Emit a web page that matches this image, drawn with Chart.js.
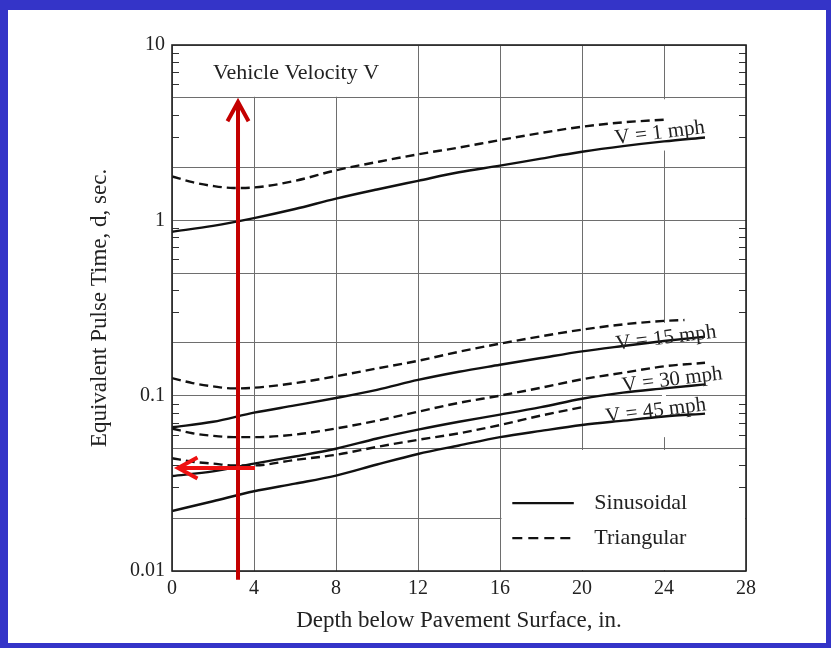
<!DOCTYPE html>
<html><head><meta charset="utf-8">
<script src="https://cdn.jsdelivr.net/npm/chart.js@4.4.1/dist/chart.umd.min.js"></script>
<style>
html,body{margin:0;padding:0;background:#3434c8;overflow:hidden;}
canvas{display:block;}
</style></head><body>
<canvas id="c" width="831" height="648"></canvas>
<script>
// ---- axis ticks ----
const depthTicks = [0, 4, 8, 12, 16, 20, 24, 28];
const yGridValues = [0.01, 0.02, 0.05, 0.1, 0.2, 0.5, 1, 2, 5, 10];
const yMinorValues = [0.03,0.04,0.06,0.07,0.08,0.09,0.3,0.4,0.6,0.7,0.8,0.9,3,4,6,7,8,9];
const yLabelValues = [0.01, 0.1, 1, 10];
const yLabelTexts = ['0.01', '0.1', '1', '10'];

// ---- series (depth in inches, pulse time in sec) ----
const depthSin = [0, 2, 4, 6, 8, 10, 12, 14, 16, 18, 20, 22, 24, 26];
const sinV1  = [0.86, 0.93, 1.03, 1.16, 1.33, 1.5, 1.68, 1.88, 2.05, 2.25, 2.46, 2.65, 2.82, 2.97];
const sinV15 = [0.066, 0.071, 0.08, 0.088, 0.097, 0.108, 0.123, 0.137, 0.15, 0.164, 0.179, 0.192, 0.205, 0.217];
const sinV30 = [0.0348, 0.037, 0.041, 0.045, 0.0498, 0.057, 0.064, 0.071, 0.078, 0.086, 0.096, 0.104, 0.110, 0.116];
const sinV45 = [0.022, 0.025, 0.0285, 0.0315, 0.035, 0.0405, 0.0465, 0.052, 0.058, 0.063, 0.068, 0.072, 0.076, 0.079];

const depthTriV1  = [0, 1, 2, 3, 4, 6, 8, 10, 12, 14, 16, 18, 20, 22, 24];
const triV1  = [1.78, 1.65, 1.57, 1.53, 1.54, 1.68, 1.93, 2.15, 2.38, 2.6, 2.87, 3.15, 3.42, 3.62, 3.75];
const depthTriV15 = [0, 1, 2, 3, 4, 6, 8, 10, 12, 14, 16, 18, 20, 22, 24, 25];
const triV15 = [0.126, 0.118, 0.113, 0.11, 0.111, 0.118, 0.129, 0.143, 0.158, 0.178, 0.198, 0.218, 0.238, 0.255, 0.267, 0.27];
const depthTriV30 = [0, 1, 2, 3, 4, 6, 8, 10, 12, 14, 16, 18, 20, 22, 24, 26];
const triV30 = [0.065, 0.061, 0.059, 0.058, 0.058, 0.06, 0.065, 0.072, 0.081, 0.091, 0.1, 0.111, 0.124, 0.135, 0.147, 0.154];
const depthTriV45 = [0, 1, 2, 3, 4, 6, 8, 10, 12, 14, 16, 18, 20];
const triV45 = [0.044, 0.042, 0.041, 0.040, 0.040, 0.043, 0.046, 0.051, 0.056, 0.061, 0.068, 0.077, 0.086];

const curveLabels = ['V = 1 mph', 'V = 15 mph', 'V = 30 mph', 'V = 45 mph'];
const legendLabels = ['Sinusoidal', 'Triangular'];

// annotation anchors in data units (depth, value)
const curveLabelAt = [[23.8, 3.15], [24.1, 0.213], [24.4, 0.123], [23.6, 0.0818]];
const titleNote = 'Vehicle Velocity V';
const titleNoteAt = [6.05, 6.9];

const pts = (xs, ys) => xs.map((x, i) => ({x: x, y: ys[i]}));
const SERIF = '"Liberation Serif", "Times New Roman", serif';

function ds(label, xs, ys, dashed) {
  return {
    label, data: pts(xs, ys),
    borderColor: '#111', borderWidth: 2.4, borderDash: dashed ? [9, 5] : [],
    pointRadius: 0, fill: false, tension: 0.4, cubicInterpolationMode: 'monotone'
  };
}

const decor = {
  id: 'decor',
  beforeDraw(chart) {
    const c = chart.ctx;
    c.save();
    c.fillStyle = '#3434c8'; c.fillRect(0, 0, chart.width, chart.height);
    c.fillStyle = '#ffffff'; c.fillRect(8, 10, 818, 633);
    c.restore();
  },
  beforeDatasetsDraw(chart) {
    const {ctx, chartArea: a, scales: {x, y}} = chart;
    ctx.save();
    ctx.fillStyle = '#fff';
    // open area behind the "Vehicle Velocity V" note
    ctx.fillRect(a.left + 1, a.top + 1, x.getPixelForValue(11.5) - a.left - 1, y.getPixelForValue(5) - a.top - 2);
    // legend area
    ctx.fillRect(x.getPixelForValue(16) + 1.5, y.getPixelForValue(0.05) + 1.5,
                 a.right - x.getPixelForValue(16) - 2.5, a.bottom - y.getPixelForValue(0.05) - 2.5);
    // gaps of the 24 in. line under labels
    const x24 = x.getPixelForValue(24);
    ctx.fillRect(x24 - 2, y.getPixelForValue(5) + 1.5, 4, y.getPixelForValue(2.55) - y.getPixelForValue(5));
    ctx.fillRect(x24 - 2, y.getPixelForValue(0.26), 4, y.getPixelForValue(0.058) - y.getPixelForValue(0.26));
    // minor ticks, inside, left and right
    ctx.strokeStyle = '#333'; ctx.lineWidth = 1.2;
    ctx.beginPath();
    yMinorValues.forEach(v => {
      const py = Math.round(y.getPixelForValue(v)) + 0.5;
      ctx.moveTo(a.left, py); ctx.lineTo(a.left + 7, py);
      ctx.moveTo(a.right, py); ctx.lineTo(a.right - 7, py);
    });
    ctx.stroke();
    ctx.restore();
  },
  afterDatasetsDraw(chart) {
    const {ctx, chartArea: a, scales: {x, y}} = chart;
    ctx.save();
    // plot frame
    ctx.strokeStyle = '#222'; ctx.lineWidth = 1.6;
    ctx.strokeRect(a.left, a.top, a.right - a.left, a.bottom - a.top);

    // text notes
    ctx.fillStyle = '#222';
    ctx.textAlign = 'center'; ctx.textBaseline = 'middle';
    ctx.font = '22px ' + SERIF;
    ctx.fillText(titleNote, x.getPixelForValue(titleNoteAt[0]), y.getPixelForValue(titleNoteAt[1]));
    ctx.font = '21px ' + SERIF;
    curveLabels.forEach((t, i) => {
      const px = x.getPixelForValue(curveLabelAt[i][0]), py = y.getPixelForValue(curveLabelAt[i][1]);
      ctx.save(); ctx.translate(px, py); ctx.rotate(-7 * Math.PI / 180);
      ctx.fillText(t, 0, 0); ctx.restore();
    });

    // legend
    const lx0 = x.getPixelForValue(16.6), lx1 = x.getPixelForValue(19.6), tx = x.getPixelForValue(20.6);
    const rows = [y.getPixelForValue(0.0244), y.getPixelForValue(0.0154)];
    ctx.strokeStyle = '#111'; ctx.lineWidth = 2.4;
    rows.forEach((ry, i) => {
      ctx.setLineDash(i === 0 ? [] : [10, 6]);
      ctx.beginPath(); ctx.moveTo(lx0, ry); ctx.lineTo(lx1, ry); ctx.stroke();
      ctx.setLineDash([]);
      ctx.textAlign = 'left'; ctx.font = '22px ' + SERIF;
      ctx.fillText(legendLabels[i], tx, ry);
    });

    // red annotation arrows
    function arrow(x1, y1, x2, y2, col) {
      ctx.strokeStyle = col; ctx.lineWidth = 4; ctx.lineCap = 'butt'; ctx.lineJoin = 'miter';
      ctx.beginPath(); ctx.moveTo(x1, y1); ctx.lineTo(x2, y2); ctx.stroke();
      const ang = Math.atan2(y2 - y1, x2 - x1), L = 22, w = 0.5;
      ctx.beginPath();
      ctx.moveTo(x2 - L * Math.cos(ang - w), y2 - L * Math.sin(ang - w));
      ctx.lineTo(x2, y2);
      ctx.lineTo(x2 - L * Math.cos(ang + w), y2 - L * Math.sin(ang + w));
      ctx.stroke();
    }
    const vx = x.getPixelForValue(3.22);
    arrow(vx, y.getPixelForValue(0.0089), vx, y.getPixelForValue(4.73), '#c40000');
    const hy = y.getPixelForValue(0.0387);
    arrow(x.getPixelForValue(4.05), hy, x.getPixelForValue(0.3), hy, '#ee1111');
    ctx.restore();
  }
};

new Chart(document.getElementById('c'), {
  type: 'line',
  data: {
    datasets: [
      ds('V=1 sinusoidal', depthSin, sinV1, false),
      ds('V=1 triangular', depthTriV1, triV1, true),
      ds('V=15 sinusoidal', depthSin, sinV15, false),
      ds('V=15 triangular', depthTriV15, triV15, true),
      ds('V=30 sinusoidal', depthSin, sinV30, false),
      ds('V=30 triangular', depthTriV30, triV30, true),
      ds('V=45 sinusoidal', depthSin, sinV45, false),
      ds('V=45 triangular', depthTriV45, triV45, true)
    ]
  },
  options: {
    responsive: false, animation: false, devicePixelRatio: 1,
    layout: {padding: {left: 82, right: 85, top: 45, bottom: 10}},
    plugins: {legend: {display: false}, tooltip: {enabled: false}},
    scales: {
      x: {
        type: 'linear', min: 0, max: 28,
        afterBuildTicks: s => { s.ticks = depthTicks.map(v => ({value: v})); },
        afterFit: s => { s.height = 67; },
        ticks: {autoSkip: false, maxRotation: 0, padding: 6, color: '#222', font: {family: SERIF, size: 20}},
        grid: {color: '#6e6e6e', lineWidth: 1, drawTicks: false},
        border: {display: false},
        title: {display: true, text: 'Depth below Pavement Surface, in.', color: '#222',
                font: {family: SERIF, size: 23}, padding: {top: 0, bottom: 3}}
      },
      y: {
        type: 'logarithmic', min: 0.01, max: 10,
        afterBuildTicks: s => { s.ticks = yGridValues.map(v => ({value: v})); },
        afterFit: s => { s.width = 90; },
        ticks: {autoSkip: false, padding: 7, color: '#222', font: {family: SERIF, size: 20},
                callback: v => { const i = yLabelValues.findIndex(u => Math.abs(u - v) < u * 1e-6); return i >= 0 ? yLabelTexts[i] : ''; }},
        grid: {color: '#6e6e6e', lineWidth: 1, drawTicks: false},
        border: {display: false},
        title: {display: true, text: 'Equivalent Pulse Time, d, sec.', color: '#222',
                font: {family: SERIF, size: 23}, padding: {top: 4, bottom: 0}}
      }
    }
  },
  plugins: [decor]
});
</script>
</body></html>
